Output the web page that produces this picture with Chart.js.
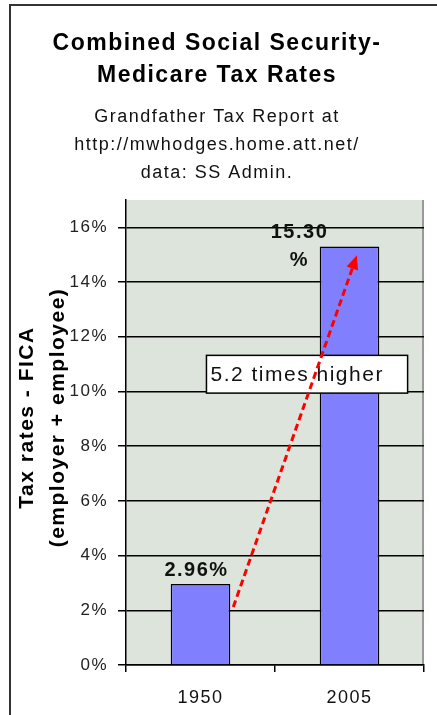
<!DOCTYPE html>
<html lang="en">
<head>
<meta charset="UTF-8">
<title>Combined Social Security-Medicare Tax Rates</title>
<script src="https://cdn.jsdelivr.net/npm/chart.js"></script>
<style>
  body { margin: 0; background: #fff; }
  #wrap { position: relative; width: 437px; height: 715px; overflow: hidden; }
  #frame { position: absolute; left: 9px; top: 4px; right: 0; bottom: 0; border-top: 2px solid #333; border-left: 2px solid #333; }
  canvas { position: absolute; left: 0; top: 0; }
</style>
</head>
<body>
<div id="wrap">
  <div id="frame"></div>
  <canvas id="myChart" width="437" height="715"></canvas>
</div>
<script>
// data
const years = ['1950', '2005'];
const taxRates = [2.96, 15.30];
const yTicks = [0, 2, 4, 6, 8, 10, 12, 14, 16];
const titleLines = ['Combined Social Security-', 'Medicare Tax Rates'];
const subtitleLines = ['Grandfather Tax Report at', 'http://mwhodges.home.att.net/', 'data: SS Admin.'];
const yTitleLines = ['Tax rates - FICA', '(employer + employee)'];
const calloutText = '5.2 times higher';

const FONT = '"Liberation Sans", Arial, sans-serif';
const SPACING = '1.5px';

// plot area fill + letter spacing (the old excel gif text is wide)
const plotBackground = {
  id: 'plotBackground',
  beforeLayout(chart) {
    chart.ctx.letterSpacing = SPACING;
  },
  beforeDraw(chart) {
    const ctx = chart.ctx;
    const a = chart.chartArea;
    ctx.letterSpacing = SPACING;
    ctx.save();
    ctx.fillStyle = '#dde4db';
    ctx.fillRect(a.left, a.top, a.right - a.left, a.bottom - a.top);
    ctx.strokeStyle = '#9a9a9a';
    ctx.lineWidth = 2;
    ctx.beginPath();
    ctx.moveTo(a.right - 1, a.top);
    ctx.lineTo(a.right - 1, a.bottom);
    ctx.stroke();
    ctx.restore();
  }
};

// rotated two-line y axis title, sits a bit above the middle like the original
const yTitle = {
  id: 'yTitle',
  afterDraw(chart, args, o) {
    const ctx = chart.ctx;
    const s = chart.scales.y;
    const cy = (chart.chartArea.top + chart.chartArea.bottom) / 2 + o.shiftY;
    ctx.save();
    ctx.font = 'bold 21px ' + FONT;
    ctx.fillStyle = '#000';
    ctx.textAlign = 'center';
    ctx.textBaseline = 'middle';
    yTitleLines.forEach((t, i) => {
      ctx.save();
      ctx.translate(s.left + o.firstX + i * o.lineGap, cy);
      ctx.rotate(-Math.PI / 2);
      ctx.fillText(t, 0, 0);
      ctx.restore();
    });
    ctx.restore();
  }
};

// value labels over the bars
const barLabels = {
  id: 'barLabels',
  afterDatasetsDraw(chart, args, opts) {
    const ctx = chart.ctx;
    const meta = chart.getDatasetMeta(0);
    ctx.save();
    ctx.font = 'bold 20px ' + FONT;
    ctx.fillStyle = '#111';
    ctx.textAlign = 'center';
    ctx.textBaseline = 'middle';
    meta.data.forEach((bar, i) => {
      const txt = taxRates[i].toFixed(2);
      const lines = opts.wrap[i] ? [txt, '%'] : [txt + '%'];
      lines.forEach((t, j) => {
        ctx.fillText(t, bar.x + opts.shiftX[i], bar.y - 14 + j * 28);
      });
    });
    ctx.restore();
  }
};

// text box + red dashed arrow
const callout = {
  id: 'callout',
  afterDraw(chart, args, o) {
    const ctx = chart.ctx;
    const x = chart.scales.x, y = chart.scales.y;
    const bx1 = x.getPixelForValue(o.box[0]), by1 = y.getPixelForValue(o.box[1]);
    const bx2 = x.getPixelForValue(o.box[2]), by2 = y.getPixelForValue(o.box[3]);
    ctx.save();
    ctx.fillStyle = '#fff';
    ctx.fillRect(bx1, by1, bx2 - bx1, by2 - by1);
    ctx.strokeStyle = '#000';
    ctx.lineWidth = 1.5;
    ctx.strokeRect(bx1, by1, bx2 - bx1, by2 - by1);
    ctx.font = '21px ' + FONT;
    ctx.fillStyle = '#111';
    ctx.textAlign = 'left';
    ctx.textBaseline = 'middle';
    ctx.fillText(calloutText, bx1 + 4, (by1 + by2) / 2 + 1);

    const x1 = x.getPixelForValue(o.from[0]), y1 = y.getPixelForValue(o.from[1]);
    const x2 = x.getPixelForValue(o.to[0]), y2 = y.getPixelForValue(o.to[1]);
    const ang = Math.atan2(y2 - y1, x2 - x1);
    const cos = Math.cos(ang), sin = Math.sin(ang);
    const hl = 14, hw = 6;
    ctx.strokeStyle = '#ff0000';
    ctx.lineWidth = 3;
    ctx.setLineDash([7, 4]);
    ctx.beginPath();
    ctx.moveTo(x1, y1);
    ctx.lineTo(x2 - hl * cos, y2 - hl * sin);
    ctx.stroke();
    ctx.setLineDash([]);
    ctx.fillStyle = '#ff0000';
    ctx.beginPath();
    ctx.moveTo(x2, y2);
    ctx.lineTo(x2 - hl * cos + hw * sin, y2 - hl * sin - hw * cos);
    ctx.lineTo(x2 - hl * cos - hw * sin, y2 - hl * sin + hw * cos);
    ctx.closePath();
    ctx.fill();
    ctx.restore();
  }
};

new Chart(document.getElementById('myChart'), {
  type: 'bar',
  data: {
    labels: years,
    datasets: [{
      data: taxRates,
      backgroundColor: '#8080ff',
      borderColor: '#000',
      borderWidth: 1.5,
      barPercentage: 0.4,
      categoryPercentage: 1
    }]
  },
  options: {
    responsive: false,
    animation: false,
    layout: { padding: { left: 10, right: 13, top: 8, bottom: 0 } },
    plugins: {
      legend: { display: false },
      tooltip: { enabled: false },
      title: {
        display: true,
        text: titleLines,
        color: '#000',
        font: { family: FONT, size: 23, weight: 'bold', lineHeight: 1.37 },
        padding: { top: 20, bottom: 0 }
      },
      subtitle: {
        display: true,
        text: subtitleLines,
        color: '#111',
        font: { family: FONT, size: 18, lineHeight: 1.555 },
        padding: { top: 12, bottom: 13 }
      },
      yTitle: { firstX: 17, lineGap: 31, shiftY: -15 },
      barLabels: { wrap: [false, true], shiftX: [-4, -50] },
      callout: { box: [0.04, 11.32, 1.39, 9.94], from: [0.22, 2.12], to: [1.05, 14.98] }
    },
    scales: {
      x: {
        grid: { offset: true, drawOnChartArea: false, color: '#000', lineWidth: 1.5, tickLength: 7 },
        border: { color: '#000', width: 1.5 },
        ticks: { color: '#111', font: { family: FONT, size: 18 }, padding: 15 },
        afterFit(s) { s.height = 50; }
      },
      y: {
        min: 0,
        max: 17,
        afterBuildTicks(s) { s.ticks = yTicks.map(v => ({ value: v })); },
        grid: { color: '#000', lineWidth: 1.5, tickLength: 8 },
        border: { color: '#000', width: 1.5 },
        ticks: { color: '#222', font: { family: FONT, size: 17 }, padding: 10, callback: v => v + '%' },
        afterFit(s) { s.width = 116; }
      }
    }
  },
  plugins: [plotBackground, yTitle, barLabels, callout]
});
</script>
</body>
</html>
